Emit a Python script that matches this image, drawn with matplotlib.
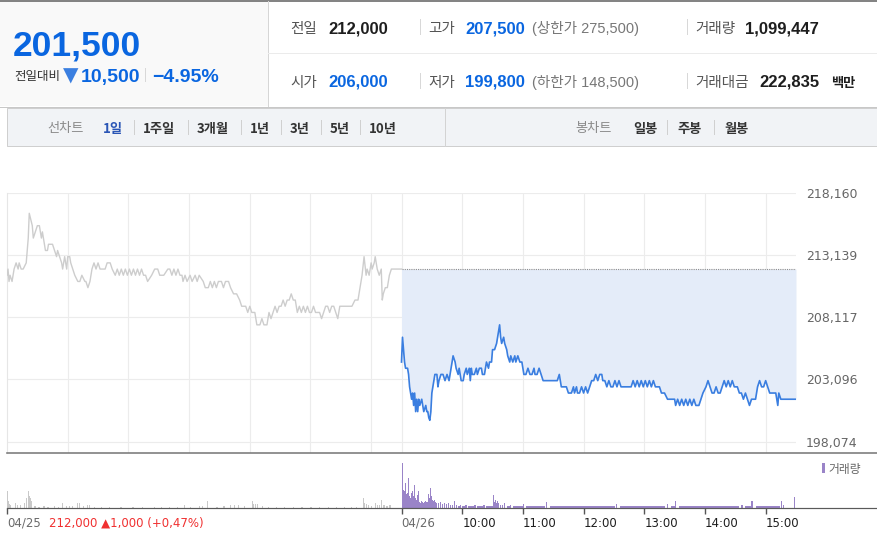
#!/usr/bin/env python3
"""
Intraday stock chart (2 days line + volume) with the quote header above it
"""
import matplotlib
matplotlib.use('Agg')
import matplotlib.pyplot as plt
from matplotlib.patches import Rectangle
from matplotlib.lines import Line2D

W, H = 878, 553

# ---- quote header ----
last_price = '201,500'
change = '10,500'
change_pct = '−4.95%'
row1 = [('전일', '212,000', 'black'), ('고가', '207,500', 'blue'), ('거래량', '1,099,447', 'black')]
row2 = [('시가', '206,000', 'blue'), ('저가', '199,800', 'blue'), ('거래대금', '222,835', 'black')]
limit_up = '(상한가 275,500)'
limit_down = '(하한가 148,500)'
line_tabs = ['1일', '1주일', '3개월', '1년', '3년', '5년', '10년']
candle_tabs = ['일봉', '주봉', '월봉']

# ---- price data (minutes from 09:00 of each day) ----
prev_close = 212000
price_ticks = [198074, 203096, 208117, 213139, 218160]
prev_day_label = '212,000 ▲1,000 (+0,47%)'

day1_min = [0, 1, 2, 3, 5, 7, 9, 11, 12, 14, 16, 19, 21, 22, 25, 26, 28, 30, 32, 33,
            34, 35, 37, 38, 40, 41, 45, 47, 49, 50, 52, 54, 55, 57, 59, 60, 62, 63, 65, 67,
            70, 72, 74, 77, 78, 80, 82, 84, 86, 88, 90, 92, 97, 99, 102, 104, 107, 109, 111, 113,
            115, 117, 119, 121, 123, 125, 127, 129, 131, 133, 135, 137, 139, 143, 146, 149, 151, 155, 159, 161,
            163, 165, 167, 169, 171, 173, 174, 176, 178, 181, 183, 186, 188, 190, 194, 196, 199, 201, 203, 205,
            207, 209, 212, 214, 216, 219, 221, 224, 227, 230, 232, 236, 238, 240, 242, 245, 247, 250, 252, 254,
            257, 259, 261, 263, 265, 267, 269, 271, 273, 275, 277, 279, 281, 283, 285, 287, 289, 291, 293, 295,
            297, 299, 301, 303, 305, 307, 309, 311, 313, 315, 317, 319, 321, 323, 325, 327, 329, 333, 337, 341,
            344, 347, 349, 351, 353, 355, 356, 358, 360, 361, 363, 364, 366, 368, 370, 371, 372, 374, 376, 378,
            380, 390]
day1_price = [211500, 212000, 211000, 211500, 211000, 212000, 212500, 212000, 212500, 212000,
              212000, 212500, 214500, 216500, 215500, 214500, 215000, 215500, 215500, 215000,
              214500, 215000, 214000, 213500, 213500, 214000, 214000, 213500, 213000, 213500,
              213000, 212500, 212000, 213000, 212000, 213000, 213000, 212500, 212000, 211500,
              211000, 211000, 211500, 211000, 211000, 210500, 211000, 212000, 212500, 212000,
              212500, 212000, 212000, 212500, 212500, 212000, 211500, 212000, 211500, 212000,
              211500, 212000, 211500, 212000, 211500, 212000, 211500, 212000, 211500, 212000,
              211500, 211500, 211000, 211500, 212000, 212000, 211500, 211500, 212000, 212000,
              211500, 212000, 211500, 212000, 211500, 211500, 211000, 211500, 211000, 211500,
              211000, 211500, 211000, 211500, 211000, 210500, 210500, 211000, 210500, 211000,
              210500, 211000, 211000, 210500, 211000, 211000, 210500, 210000, 210000, 209500,
              209000, 209000, 208500, 209000, 208500, 208500, 207500, 207500, 208000, 207500,
              207500, 208500, 208000, 208500, 209000, 208500, 209000, 209000, 209500, 209000,
              209500, 209500, 210000, 209500, 209500, 208500, 209000, 208500, 209000, 208500,
              209000, 208500, 208500, 209000, 208500, 208500, 208500, 208000, 208500, 209000,
              209000, 208500, 209000, 209000, 208500, 208000, 209000, 209000, 209000, 209000,
              209500, 209500, 210500, 211500, 213000, 211500, 212000, 211500, 212500, 212000,
              212500, 213000, 212000, 211500, 212000, 209500, 210000, 210500, 210500, 211500,
              212000, 212000]

day2_min = [0, 1, 2, 3, 4, 6, 7, 8, 10, 11, 12, 13, 14, 15, 16, 17, 18, 20, 21, 22,
            24, 25, 26, 27, 28, 29, 30, 32, 33, 35, 36, 37, 39, 41, 43, 45, 47, 49, 51, 53,
            54, 56, 57, 59, 61, 62, 64, 65, 67, 68, 69, 70, 72, 74, 75, 77, 79, 80, 82, 84,
            86, 87, 89, 90, 92, 94, 95, 97, 98, 99, 101, 102, 104, 105, 107, 108, 110, 112, 113, 115,
            117, 119, 121, 123, 125, 127, 129, 131, 132, 134, 136, 138, 140, 145, 148, 150, 152, 154, 156, 158,
            163, 165, 168, 170, 171, 173, 174, 176, 178, 180, 182, 184, 186, 188, 190, 192, 194, 196, 198, 199,
            201, 203, 205, 207, 209, 211, 213, 215, 217, 219, 221, 223, 225, 227, 229, 231, 233, 235, 237, 239,
            241, 243, 245, 247, 249, 251, 253, 255, 257, 260, 263, 266, 270, 271, 273, 275, 277, 279, 281, 283,
            285, 287, 289, 291, 294, 296, 298, 301, 303, 305, 307, 309, 311, 313, 315, 317, 319, 321, 323, 325,
            327, 329, 332, 334, 336, 338, 340, 342, 344, 346, 350, 352, 354, 356, 358, 360, 362, 364, 368, 370,
            372, 373, 375, 390]
day2_price = [204500, 206500, 205500, 204500, 204000, 204000, 203500, 202500, 201500, 202000,
              201000, 202000, 200500, 201500, 200500, 201500, 201000, 201500, 201000, 200500,
              201000, 200500, 200500, 200000, 199800, 200500, 202000, 203000, 203500, 203500,
              202500, 203000, 203500, 203500, 203000, 203500, 203000, 204000, 205000, 204500,
              204000, 203500, 204000, 203000, 203000, 203500, 204000, 203500, 204000, 203000,
              204000, 203500, 203500, 204000, 203500, 204000, 204000, 203500, 203500, 204500,
              204000, 204500, 204500, 205500, 205500, 206000, 206500, 207500, 206500, 206000,
              206500, 206000, 205500, 205000, 204500, 205000, 204500, 205000, 204500, 205000,
              204500, 204500, 203500, 203500, 204000, 203500, 203500, 204000, 203500, 203500,
              204000, 203500, 203000, 203000, 203000, 203000, 203000, 203000, 203500, 202500,
              202500, 202000, 202000, 202500, 202000, 202500, 202000, 202000, 202500, 202000,
              202500, 202000, 202500, 203000, 203000, 203500, 203000, 203500, 203500, 203000,
              203000, 202500, 203000, 202500, 202500, 203000, 202500, 203000, 202500, 202500,
              202500, 202500, 202500, 202500, 203000, 202500, 203000, 202500, 203000, 202500,
              203000, 202500, 203000, 202500, 203000, 202500, 202500, 202500, 202000, 202000,
              201500, 201500, 201500, 201000, 201500, 201000, 201500, 201000, 201500, 201000,
              201500, 201000, 201500, 201000, 201000, 201500, 202000, 202500, 203000, 202500,
              202000, 202000, 202500, 202000, 202000, 202500, 203000, 202500, 203000, 202500,
              203000, 202500, 202500, 202000, 202000, 201500, 202000, 201500, 201000, 201500,
              201500, 202500, 203000, 202500, 202500, 203000, 202500, 202000, 202000, 202000,
              201000, 202000, 201500, 201500]

# ---- volume data (shares per minute) ----
day1_vol_min = [0, 1, 2, 3, 8, 10, 13, 17, 19, 21, 22, 23, 24, 27, 31, 36, 40, 46, 50, 54,
                58, 61, 64, 69, 71, 75, 79, 81, 86, 93, 101, 112, 124, 133, 145, 152, 160, 168, 175, 181,
                190, 193, 198, 207, 214, 220, 224, 228, 234, 242, 243, 245, 247, 252, 258, 266, 274, 283, 291, 300,
                308, 317, 325, 333, 340, 345, 352, 353, 355, 357, 360, 364, 366, 368, 370, 372, 375, 378]
day1_vol = [15300, 6300, 3600, 2700, 4500, 2700, 2700, 4500, 9000, 15300, 10800, 9000, 6300, 1800, 900, 1800, 900, 1800, 900, 4500,
            1800, 1800, 1300, 4500, 4500, 1300, 2700, 2700, 900, 900, 900, 900, 900, 900, 900, 900, 900, 900, 2700, 900,
            1800, 1800, 6300, 900, 1300, 2700, 2700, 2700, 1300, 6300, 3600, 3600, 3600, 1300, 900, 900, 900, 900, 900, 900,
            900, 900, 900, 900, 900, 900, 9000, 4500, 3600, 2700, 1800, 4500, 2700, 2700, 7200, 2700, 1800, 2700]

day2_vol_min = [0, 1, 2, 3, 4, 5, 6, 7, 8, 9, 10, 11, 12, 13, 14, 15, 16, 17, 18, 19,
                20, 21, 22, 23, 24, 25, 26, 27, 28, 29, 30, 31, 32, 33, 34, 36, 38, 40, 42, 44,
                46, 48, 50, 52, 54, 56, 58, 60, 63, 66, 69, 72, 75, 78, 81, 84, 87, 90, 91, 92,
                93, 94, 95, 97, 99, 101, 104, 107, 110, 113, 116, 120, 123, 126, 130, 134, 138, 143, 147, 151,
                155, 159, 163, 167, 171, 175, 179, 183, 187, 191, 195, 199, 203, 207, 212, 216, 220, 224, 228, 232,
                236, 240, 244, 248, 252, 256, 262, 266, 270, 274, 278, 282, 286, 290, 294, 298, 302, 306, 310, 314,
                318, 322, 326, 330, 336, 340, 343, 346, 350, 354, 358, 362, 366, 370, 375, 377, 388]
day2_vol = [40500, 16200, 15300, 22500, 12600, 13500, 27000, 10800, 9000, 13500, 15300, 10800, 20700, 9000, 7200, 11700, 15300, 5400, 4500, 6300,
            5400, 4500, 5400, 6300, 5400, 5400, 12600, 9000, 18000, 10800, 7200, 6300, 7200, 5400, 4500, 4500, 5400, 3600, 4500, 3600,
            4500, 2700, 2700, 6300, 2700, 1800, 2700, 1800, 2700, 1800, 1800, 2700, 1800, 1800, 2700, 1800, 1800, 11400, 5400, 7200,
            4500, 6300, 4500, 2700, 2700, 4500, 1800, 2700, 1800, 1800, 1800, 3600, 1800, 1800, 1800, 1800, 1800, 5400, 1800, 1800,
            1800, 1800, 1300, 1300, 1800, 1300, 1800, 1300, 1300, 1800, 1300, 1300, 1300, 1800, 3600, 1300, 1300, 1800, 1300, 1300,
            1300, 1800, 1300, 1300, 1800, 1300, 3600, 1300, 6300, 1800, 1300, 1800, 1300, 1800, 1300, 1800, 1300, 1800, 1300, 1300,
            1800, 1300, 1300, 1800, 2700, 1800, 1300, 6300, 1800, 1300, 1800, 1300, 1800, 1300, 6300, 2700, 9900]

time_ticks = [0, 390, 450, 510, 570, 630, 690, 750]
time_labels = ['04/25', '04/26', '10:00', '11:00', '12:00', '13:00', '14:00', '15:00']

KR = ['Noto Sans CJK KR', 'DejaVu Sans']
NUM = ['Liberation Sans', 'Noto Sans CJK KR', 'DejaVu Sans']
BLUE = '#0a66e0'
GRAY_TXT = '#666666'
PURPLE = '#9a84c8'


def fx(x):
    return x / W


def fy(y):
    return 1 - y / H


fig = plt.figure(figsize=(W / 100, H / 100), dpi=100)
fig.patch.set_facecolor('white')


def put(x, y, s, size, color, weight='normal', family=NUM, ha='left'):
    fig.text(fx(x), fy(y), s, fontsize=size, color=color, fontweight=weight,
             family=family, ha=ha, va='baseline')


def hline(x0, x1, y, color, lw=1.0):
    fig.add_artist(Line2D([fx(x0), fx(x1)], [fy(y), fy(y)], color=color, lw=lw * 0.72))


def vline(x, y0, y1, color, lw=1.0):
    fig.add_artist(Line2D([fx(x), fx(x)], [fy(y0), fy(y1)], color=color, lw=lw * 0.72))


# ---- header boxes ----
fig.add_artist(Rectangle((0, fy(106)), fx(268), fy(1) - fy(106), facecolor='#f9f9f9',
                         edgecolor='none', transform=fig.transFigure))
hline(0, W, 0.8, '#666666', 1.6)
vline(268, 1, 106, '#d6d6d6')
hline(268, W, 53, '#ebebeb')
hline(0, W, 106.5, '#c8c8c8')

put(13, 55, last_price, 25.5, BLUE, 'bold')
put(14, 80, '전일대비', 9, '#333333', family=KR)
put(63, 82, '▼', 14.5, '#3b7fe0', family=['DejaVu Sans'])
put(81, 82, change, 14, BLUE, 'bold')
vline(145, 68, 81, '#d8d8d8')
put(152, 82, change_pct, 14, BLUE, 'bold')

colors = {'black': '#1e1e1e', 'blue': BLUE}
for row, base in ((row1, 33), (row2, 86.5)):
    (l1, v1, c1), (l2, v2, c2), (l3, v3, c3) = row
    put(290, base, l1, 10.5, '#555555', family=KR)
    put(328, base, v1, 12, colors[c1], 'bold')
    vline(420, base - 14, base + 1, '#d8d8d8')
    put(428, base, l2, 10.5, '#555555', family=KR)
    put(465, base, v2, 12, colors[c2], 'bold')
    vline(687, base - 14, base + 1, '#d8d8d8')
    put(695, base, l3, 10.5, '#555555', family=KR)
put(532, 33, limit_up, 10.5, '#777777')
put(532, 86.5, limit_down, 10.5, '#777777')
put(745, 33, row1[2][1], 12, '#1e1e1e', 'bold')
put(759, 86.5, row2[2][1], 12, '#1e1e1e', 'bold')
put(831, 86.5, '백만', 9.5, '#1e1e1e', 'bold', family=KR)

# ---- tab bar ----
fig.add_artist(Rectangle((fx(7), fy(146)), fx(W) - fx(7), fy(108) - fy(146), facecolor='#f1f3f6',
                         edgecolor='#cfcfcf', lw=0.72, transform=fig.transFigure))
vline(445, 108, 146, '#d3d3d3')
put(47, 132, '선차트', 9.5, '#8a8a8a', family=KR)
tab_x = [103, 143, 197, 250, 290, 330, 369]
for i, (name, x) in enumerate(zip(line_tabs, tab_x)):
    put(x, 133, name, 9.5, '#2a55b5' if i == 0 else '#333333', 'bold', family=KR)
    if i > 0:
        vline(x - 9, 120, 134, '#d0d0d0')
put(575, 132, '봉차트', 9.5, '#8a8a8a', family=KR)
for i, (name, x) in enumerate(zip(candle_tabs, [633, 677, 724])):
    put(x, 133, name, 9.5, '#333333', 'bold', family=KR)
    if i > 0:
        vline(x - 10, 120, 134, '#d0d0d0')

# ---- price chart ----
top, bot = 192.7, 453.3
ax = fig.add_axes([fx(7), fy(bot), fx(796) - fx(7), fy(top) - fy(bot)])
ax.set_xlim(0, 780)
ax.set_ylim(197138, 218160)
ax.set_xticks([60, 120, 180, 240, 300, 360, 390, 450, 510, 570, 630, 690, 750])
ax.set_xticklabels([])
ax.set_yticks(price_ticks)
ax.set_yticklabels([f'{v:,}' for v in price_ticks])
ax.yaxis.tick_right()
ax.tick_params(axis='both', length=0)
ax.tick_params(axis='y', pad=7, labelsize=9, labelcolor=GRAY_TXT)
ax.grid(True, color='#ececec', lw=0.8)
ax.set_axisbelow(True)
for s in ('top', 'right', 'bottom'):
    ax.spines[s].set_visible(False)
ax.spines['left'].set_color('#e6e6e6')
ax.set_facecolor('none')

x2 = [390 + m for m in day2_min]
ax.fill_between(x2, day2_price, prev_close, color='#e4ecf9', lw=0, zorder=1)
ax.plot([390, 780], [prev_close, prev_close], color='#8c8c8c', lw=0.8, ls=(0, (1, 1)), zorder=2)
ax.plot(day1_min, day1_price, color='#cdcdcd', lw=1.0, zorder=3)
ax.plot(x2, day2_price, color='#3a7ee0', lw=1.2, zorder=4)

hline(7, W, bot, '#7a7a7a', 1.6)

# ---- volume chart ----
vbot = 507.5
vax = fig.add_axes([fx(7), fy(vbot), fx(796) - fx(7), fy(bot + 1) - fy(vbot)])
vax.set_xlim(0, 780)
vax.set_ylim(0, 48000)
vax.bar(day1_vol_min, day1_vol, width=1.2, align='edge', color='#c9c9c9', lw=0)
# day 2 trades every minute: small bars run on to the next listed minute, spikes stay thin
x2v = [390 + m for m in day2_vol_min]
w2v = [min(b - a, 4) if v < 2500 else 1.3
       for a, b, v in zip(x2v[:-1], x2v[1:], day2_vol[:-1])] + [1.3]
vax.bar(x2v, day2_vol, width=w2v, align='edge', color=PURPLE, lw=0)
for s in vax.spines.values():
    s.set_visible(False)
vax.set_facecolor('none')
vax.set_yticks([])
vax.set_xticks(time_ticks)
vax.set_xticklabels(time_labels, ha='left')
vax.tick_params(axis='x', direction='out', length=4.3, width=1, color='#555555',
                pad=2.5, labelsize=8.5)
for lab, txt in zip(vax.get_xticklabels(), time_labels):
    lab.set_color('#6a6a6a' if '/' in txt else '#1e1e1e')
hline(7, W, vbot, '#5a5a5a', 1.2)
put(49, 527, prev_day_label, 8.5, '#f03030', family=['DejaVu Sans'])

# legend
fig.add_artist(Rectangle((fx(822), fy(473)), fx(3.5), fy(463) - fy(473), facecolor=PURPLE,
                         edgecolor='none', transform=fig.transFigure))
put(828, 473, '거래량', 8.5, GRAY_TXT, family=KR)

fig.savefig('out.png', dpi=100)
